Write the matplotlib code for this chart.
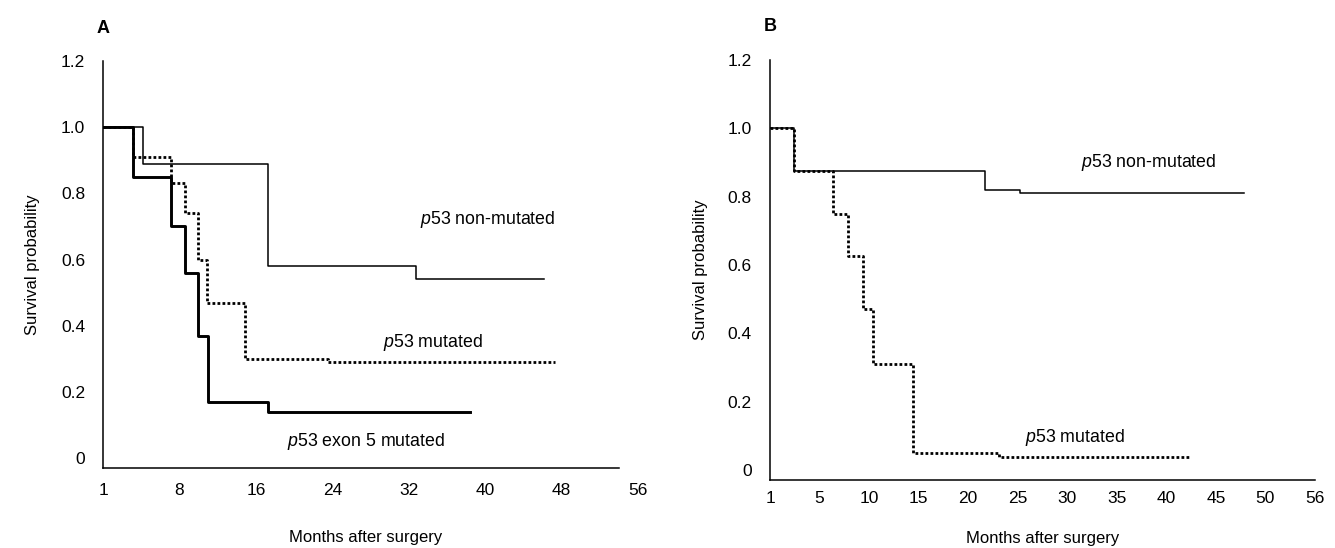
import matplotlib
matplotlib.use('Agg')
import matplotlib.pyplot as plt

plt.rcParams['font.family'] = ['Liberation Sans', 'DejaVu Sans']
plt.rcParams['mathtext.fontset'] = 'custom'
plt.rcParams['mathtext.rm'] = 'Liberation Sans'
plt.rcParams['mathtext.it'] = 'Liberation Sans:italic'

# Panel A: step curves (axis position, survival); last point = end of follow-up
a_nonmut_t = [0, 4.2, 17.3, 32.8, 46.2]
a_nonmut_s = [1.0, 0.89, 0.58, 0.54, 0.54]
a_mut_t = [0, 3.1, 7.1, 8.6, 9.9, 10.9, 14.9, 23.5, 47.3]
a_mut_s = [1.0, 0.91, 0.83, 0.74, 0.60, 0.47, 0.30, 0.29, 0.29]
a_exon5_t = [0, 3.1, 7.1, 8.6, 9.9, 11.0, 17.3, 38.4]
a_exon5_s = [1.0, 0.85, 0.70, 0.56, 0.37, 0.17, 0.14, 0.14]
a_xtick_pos = [0, 8, 16, 24, 32, 40, 48, 56]
a_xtick_lab = ['1', '8', '16', '24', '32', '40', '48', '56']

# Panel B
b_nonmut_t = [0, 2.4, 21.7, 25.2, 47.8]
b_nonmut_s = [1.0, 0.875, 0.82, 0.81, 0.81]
b_mut_t = [0, 2.4, 6.4, 7.9, 9.4, 10.4, 14.4, 23.1, 42.4]
b_mut_s = [1.0, 0.875, 0.75, 0.625, 0.47, 0.31, 0.05, 0.037, 0.037]
b_xtick_pos = [0, 5, 10, 15, 20, 25, 30, 35, 40, 45, 50, 55]
b_xtick_lab = ['1', '5', '10', '15', '20', '25', '30', '35', '40', '45', '50', '56']

yticks = [0, 0.2, 0.4, 0.6, 0.8, 1.0, 1.2]
ytick_lab = ['0', '0.2', '0.4', '0.6', '0.8', '1.0', '1.2']

fig = plt.figure(figsize=(13.35, 5.48), dpi=100)
axA = fig.add_axes([0.0772, 0.146, 0.4007, 0.7427])
axB = fig.add_axes([0.5768, 0.124, 0.4082, 0.7664])

thin = dict(color='black', lw=1.1)
dotted = dict(color='black', lw=2.0, linestyle=(0, (1, 0.8)))
thick = dict(color='black', lw=2.1)

axA.step(a_nonmut_t, a_nonmut_s, where='post', **thin)
axA.step(a_mut_t, a_mut_s, where='post', **dotted)
axA.step(a_exon5_t, a_exon5_s, where='post', **thick)

axB.step(b_nonmut_t, b_nonmut_s, where='post', **thin)
axB.step(b_mut_t, b_mut_s, where='post', **dotted)

for ax, xt, xl, xmax in [(axA, a_xtick_pos, a_xtick_lab, 56), (axB, b_xtick_pos, b_xtick_lab, 55)]:
    ax.set_xlim(0, xmax)
    ax.set_ylim(-0.03, 1.2)
    ax.set_xticks(xt)
    ax.set_xticklabels(xl)
    ax.set_yticks(yticks)
    ax.set_yticklabels(ytick_lab)
    ax.tick_params(length=0, labelsize=12.5)
    ax.tick_params(axis='y', pad=13)
    ax.tick_params(axis='x', pad=11)
    ax.spines['top'].set_visible(False)
    ax.spines['right'].set_visible(False)
    ax.spines['left'].set_linewidth(1.1)
    ax.spines['bottom'].set_linewidth(1.1)
    ax.set_ylabel('Survival probability', fontsize=12)
    ax.set_xlabel('Months after surgery', fontsize=12, va='center')

axA.spines['bottom'].set_bounds(0, 54)
axA.yaxis.set_label_coords(-0.118, 0.5)
axB.yaxis.set_label_coords(-0.113, 0.5)
axA.xaxis.set_label_coords(0.49, -0.172)
axB.xaxis.set_label_coords(0.5, -0.14)
axB.tick_params(axis='x', pad=8)

# panel letters
axA.text(0, 1.06, 'A', transform=axA.transAxes, fontsize=13, fontweight='bold', ha='center', va='bottom')
axB.text(0, 1.06, 'B', transform=axB.transAxes, fontsize=13, fontweight='bold', ha='center', va='bottom')

# curve labels
axA.text(33.2, 0.72, r'$\mathit{p53}$ non-mutated', fontsize=12.8, va='center')
axA.text(29.3, 0.35, r'$\mathit{p53}$ mutated', fontsize=12.8, va='center')
axA.text(19.3, 0.05, r'$\mathit{p53}$ exon 5 mutated', fontsize=12.8, va='center')
axB.text(31.4, 0.90, r'$\mathit{p53}$ non-mutated', fontsize=12.8, va='center')
axB.text(25.7, 0.095, r'$\mathit{p53}$ mutated', fontsize=12.8, va='center')

fig.savefig('out.png', dpi=100)
